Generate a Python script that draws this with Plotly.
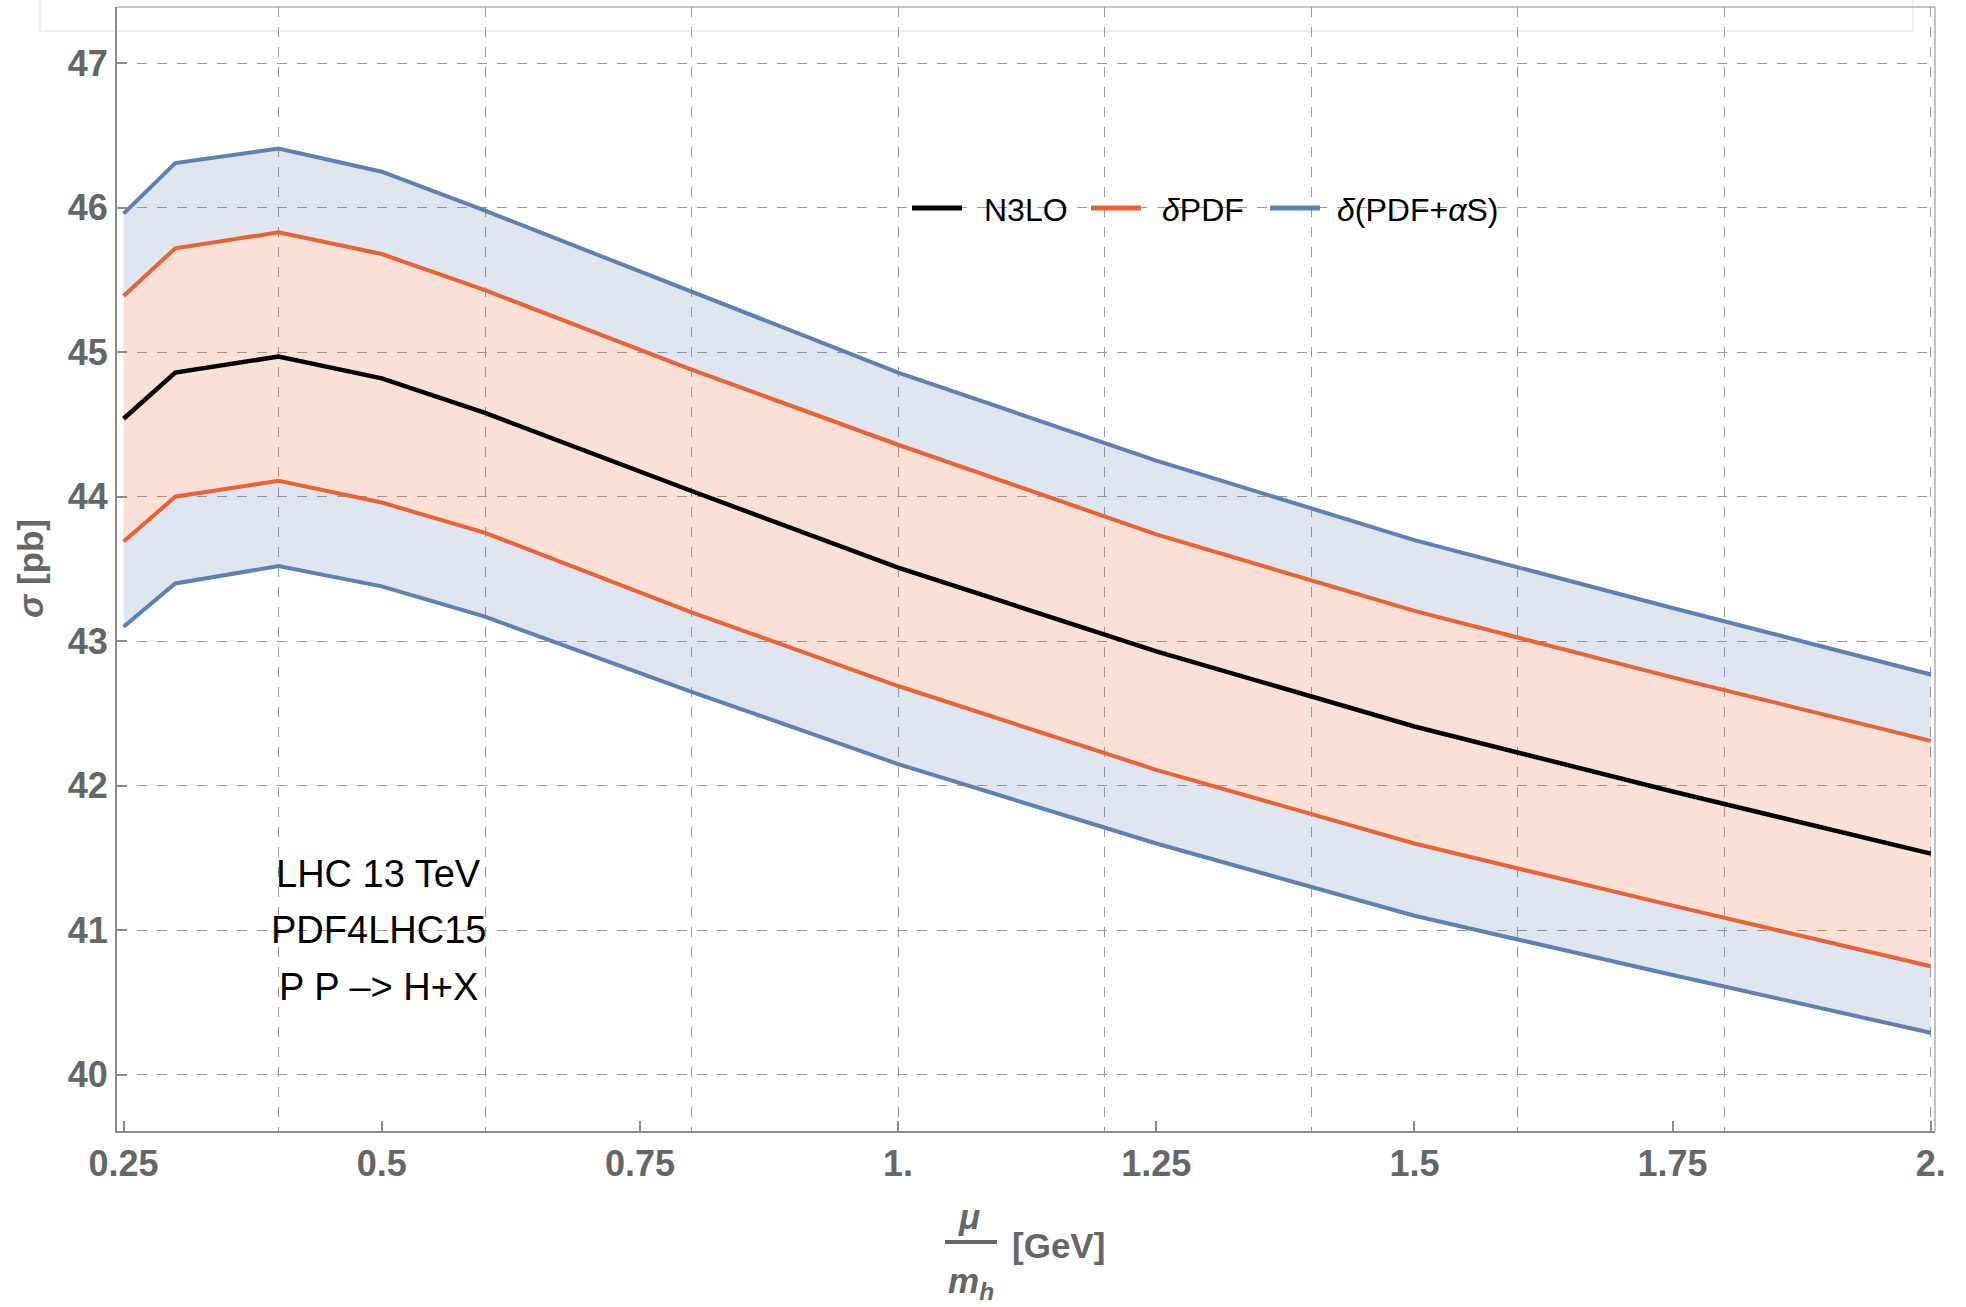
import plotly.graph_objects as go

# Scale ratio mu/m_h and the cross sections (pb)
MU = [0.25, 0.3, 0.4, 0.5, 0.6, 0.8, 1.0, 1.25, 1.5, 1.75, 2.0]
N3LO = [44.54, 44.86, 44.97, 44.82, 44.58, 44.04, 43.51, 42.93, 42.41, 41.96, 41.53]
PDF_HI = [45.39, 45.72, 45.83, 45.68, 45.43, 44.88, 44.36, 43.74, 43.21, 42.75, 42.31]
PDF_LO = [43.69, 44.00, 44.11, 43.96, 43.75, 43.20, 42.69, 42.11, 41.60, 41.17, 40.75]
TOT_HI = [45.96, 46.31, 46.41, 46.25, 45.98, 45.42, 44.86, 44.25, 43.70, 43.23, 42.77]
TOT_LO = [43.10, 43.40, 43.52, 43.38, 43.17, 42.65, 42.15, 41.60, 41.10, 40.69, 40.29]

X_TICKS = [0.25, 0.5, 0.75, 1.0, 1.25, 1.5, 1.75, 2.0]
X_TICKTEXT = ["0.25", "0.5", "0.75", "1.", "1.25", "1.5", "1.75", "2."]
X_GRID = [0.4, 0.6, 0.8, 1.0, 1.2, 1.4, 1.6, 1.8, 2.0]
Y_TICKS = [40, 41, 42, 43, 44, 45, 46, 47]

LEGEND_NAMES = ["N3LO", "<i>δ</i>PDF", "<i>δ</i>(PDF+<i>α</i>S)"]
INFO_LINES = ["LHC 13 TeV", "PDF4LHC15", "P P –> H+X"]
INFO_Y = [41.39, 41.0, 40.61]

BLACK = "#000000"
ORANGE = "#eb6235"
BLUE = "#5e81b5"
ORANGE_FILL = "rgba(235,98,53,0.2)"
BLUE_FILL = "rgba(94,129,181,0.2)"
AXIS_GRAY = "#8a8a8a"
LABEL_GRAY = "#666666"
GRID_GRAY = "#9a9a9a"
FONT = "Liberation Sans, Arial, sans-serif"

W, H = 1966, 1307
ML, MR, MT, MB = 117, 31, 7, 176
PW, PH = W - ML - MR, H - MT - MB


def fx(p):
    """pixel column -> paper x"""
    return (p - ML) / PW


def fy(p):
    """pixel row -> paper y"""
    return (H - MB - p) / PH


def band(lo, hi, color):
    return go.Scatter(
        x=MU + MU[::-1], y=hi + lo[::-1], fill="toself", fillcolor=color,
        mode="lines", line=dict(width=0), hoverinfo="skip", showlegend=False,
    )


def curve(y, color, width):
    return go.Scatter(x=MU, y=y, mode="lines", line=dict(color=color, width=width),
                      showlegend=False)


fig = go.Figure()
# shaded uncertainty bands: PDF+alpha_s outer strips, PDF inner band
fig.add_trace(band(PDF_HI, TOT_HI, BLUE_FILL))
fig.add_trace(band(TOT_LO, PDF_LO, BLUE_FILL))
fig.add_trace(band(PDF_LO, PDF_HI, ORANGE_FILL))
# band edges and central value
for ys in (TOT_HI, TOT_LO):
    fig.add_trace(curve(ys, BLUE, 4))
for ys in (PDF_HI, PDF_LO):
    fig.add_trace(curve(ys, ORANGE, 4))
fig.add_trace(curve(N3LO, BLACK, 4.5))
# carrier for the secondary x grid
fig.add_trace(go.Scatter(x=[MU[0]], y=[N3LO[0]], xaxis="x2", mode="markers",
                         marker=dict(opacity=0), hoverinfo="skip", showlegend=False))

XR = [0.2436, 2.0041]
YR = [39.61, 47.39]

fig.update_layout(
    width=W, height=H,
    margin=dict(l=ML, r=MR, t=MT, b=MB),
    paper_bgcolor="white", plot_bgcolor="white",
    showlegend=False,
    font=dict(family=FONT),
    xaxis=dict(
        range=XR, tickmode="array", tickvals=X_TICKS, ticktext=X_TICKTEXT,
        showgrid=False, zeroline=False,
        showline=True, linecolor=AXIS_GRAY, linewidth=2,
        ticks="inside", ticklen=10, tickwidth=1.5, tickcolor=AXIS_GRAY,
        tickfont=dict(family=FONT, size=36, color=LABEL_GRAY, weight="bold"),
        ticklabelstandoff=0,
    ),
    xaxis2=dict(
        range=XR, overlaying="x", matches="x", tickmode="array", tickvals=X_GRID,
        showticklabels=False, ticks="", showline=False, zeroline=False,
        showgrid=True, gridcolor=GRID_GRAY, gridwidth=1, griddash="10px,10px",
    ),
    yaxis=dict(
        range=YR, tickmode="array", tickvals=Y_TICKS,
        showgrid=True, gridcolor=GRID_GRAY, gridwidth=1, griddash="10px,10px",
        zeroline=False,
        showline=True, linecolor=AXIS_GRAY, linewidth=2,
        ticks="inside", ticklen=10, tickwidth=1.5, tickcolor=AXIS_GRAY,
        tickfont=dict(family=FONT, size=36, color=LABEL_GRAY, weight="bold"),
        ticklabelstandoff=0,
    ),
)

shapes = [
    # thin frame on the top and right sides
    dict(type="line", xref="paper", yref="paper", x0=0, x1=1, y0=1, y1=1,
         line=dict(color=AXIS_GRAY, width=1)),
    dict(type="line", xref="paper", yref="paper", x0=1, x1=1, y0=0, y1=1,
         line=dict(color=AXIS_GRAY, width=1)),
    # faint panel outline along the top
    dict(type="rect", xref="paper", yref="paper", x0=fx(40), x1=fx(1913),
         y0=fy(31), y1=fy(-10), line=dict(color="#efefef", width=2), layer="below"),
    # fraction bar of the x-axis label
    dict(type="line", xref="paper", yref="paper", x0=fx(945), x1=fx(997),
         y0=fy(1242), y1=fy(1242), line=dict(color=LABEL_GRAY, width=4)),
]

annotations = []
# legend entries
legend_colors = [BLACK, ORANGE, BLUE]
line_starts = [912, 1091, 1270]
text_starts = [982, 1160, 1335]
for name, col, ls, ts in zip(LEGEND_NAMES, legend_colors, line_starts, text_starts):
    shapes.append(dict(type="line", xref="paper", yref="paper", x0=fx(ls), x1=fx(ls + 50),
                       y0=fy(208), y1=fy(208), line=dict(color=col, width=5)))
    annotations.append(dict(text=name, xref="paper", yref="paper", x=fx(ts), y=fy(210),
                            xanchor="left", yanchor="middle", showarrow=False,
                            font=dict(family=FONT, size=32, color=BLACK)))

# process description
for line, yv in zip(INFO_LINES, INFO_Y):
    annotations.append(dict(text=line, xref="x", yref="y", x=0.497, y=yv,
                            xanchor="center", yanchor="middle", showarrow=False,
                            font=dict(family=FONT, size=38, color=BLACK)))

# axis titles
title_font = dict(family=FONT, size=35, color=LABEL_GRAY, weight="bold")
annotations += [
    dict(text="<i>σ</i> [pb]", xref="paper", yref="paper", x=fx(30), y=0.5,
         textangle=-90, xanchor="center", yanchor="middle", showarrow=False, font=title_font),
    dict(text="<i>μ</i>", xref="paper", yref="paper", x=fx(969), y=fy(1216),
         xanchor="center", yanchor="middle", showarrow=False, font=title_font),
    dict(text="<i>m</i><sub><i>h</i></sub>", xref="paper", yref="paper", x=fx(971), y=fy(1283),
         xanchor="center", yanchor="middle", showarrow=False, font=title_font),
    dict(text="[GeV]", xref="paper", yref="paper", x=fx(1010), y=fy(1245),
         xanchor="left", yanchor="middle", showarrow=False, font=title_font),
]

fig.update_layout(shapes=shapes, annotations=annotations)
fig.write_html("out.html")
